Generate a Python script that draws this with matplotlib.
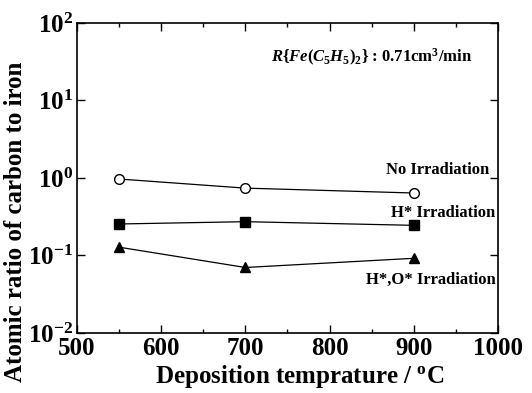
import matplotlib
matplotlib.use("Agg")
import matplotlib.pyplot as plt
from matplotlib.ticker import MultipleLocator, FixedLocator, FixedFormatter, NullLocator

plt.rcParams['font.family'] = 'Liberation Serif'
plt.rcParams['font.weight'] = 'bold'
plt.rcParams['axes.labelweight'] = 'bold'
plt.rcParams['mathtext.fontset'] = 'custom'
plt.rcParams['mathtext.rm'] = 'Liberation Serif:bold'
plt.rcParams['mathtext.it'] = 'Liberation Serif:italic:bold'
plt.rcParams['mathtext.bf'] = 'Liberation Serif:bold'

# data
temps = [550, 700, 900]
no_irr = [0.97, 0.74, 0.64]
h_irr = [0.255, 0.273, 0.245]
ho_irr = [0.128, 0.070, 0.092]

y_ticks = [1e-2, 1e-1, 1e0, 1e1, 1e2]
y_ticklabels = ['$10^{-2}$', '$10^{-1}$', '$10^{0}$', '$10^{1}$', '$10^{2}$']

fig = plt.figure(figsize=(5.32, 3.93), dpi=100)
ax = fig.add_axes([0.1447, 0.1527, 0.7913, 0.7888])

ax.plot(temps, no_irr, 'k-', lw=0.9, marker='o', mfc='white', mec='black', ms=7, mew=1.0)
ax.plot(temps, h_irr, 'k-', lw=0.9, marker='s', mfc='black', mec='black', ms=7)
ax.plot(temps, ho_irr, 'k-', lw=0.9, marker='^', mfc='black', mec='black', ms=7)

ax.set_yscale('log')
ax.set_xlim(500, 1000)
ax.set_ylim(1e-2, 1e2)

ax.xaxis.set_major_locator(MultipleLocator(100))
ax.xaxis.set_minor_locator(MultipleLocator(50))
ax.yaxis.set_major_locator(FixedLocator(y_ticks))
ax.yaxis.set_major_formatter(FixedFormatter(y_ticklabels))
ax.yaxis.set_minor_locator(NullLocator())

ax.tick_params(which='both', direction='in', top=True, right=True)
ax.tick_params(which='major', length=6, width=1, labelsize=18, pad=3)
ax.tick_params(which='minor', length=3, width=1)
for sp in ax.spines.values():
    sp.set_linewidth(1.2)

ax.set_xlabel(r'Deposition temprature / $^{\mathrm{o}}$C', fontsize=18, labelpad=0)
ax.xaxis.set_label_coords(0.53, -0.097)
ax.set_ylabel('Atomic ratio of carbon to iron', fontsize=18, labelpad=0)
ax.yaxis.set_label_coords(-0.118, 0.36)

ax.text(969, 36, r'$\mathit{R\{Fe(C_5H_5)_2\}}$ : 0.71cm$^3$/min', fontsize=12, ha='right', va='center')
ax.text(990, 1.27, 'No Irradiation', fontsize=12, ha='right', va='center')
ax.text(997, 0.354, 'H* Irradiation', fontsize=12, ha='right', va='center')
ax.text(997, 0.048, 'H*,O* Irradiation', fontsize=12, ha='right', va='center')

fig.savefig('out.png', dpi=100)
